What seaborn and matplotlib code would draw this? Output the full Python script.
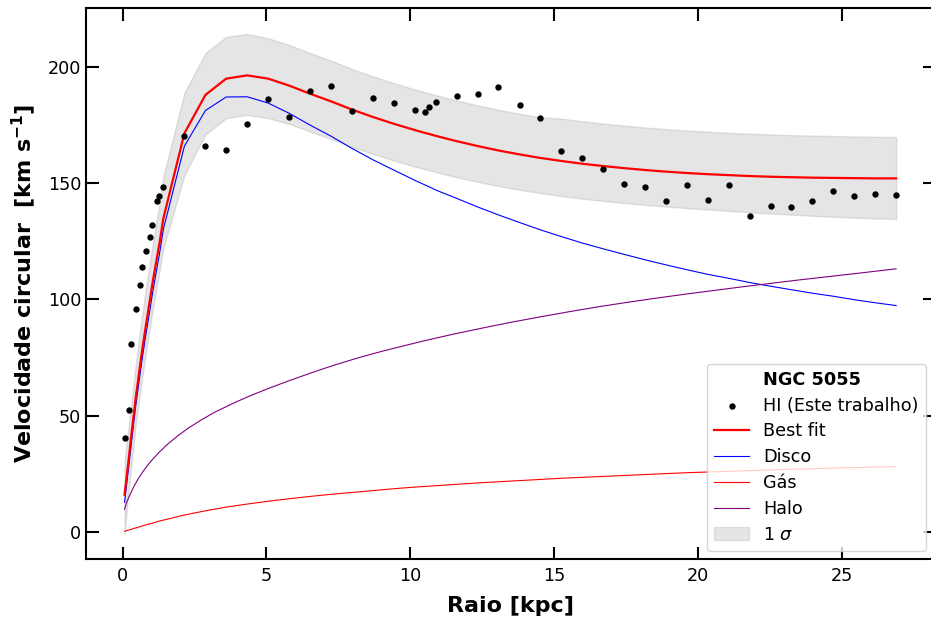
import matplotlib
matplotlib.use("Agg")
import matplotlib.pyplot as plt
from matplotlib.lines import Line2D
import seaborn as sns

# Observed HI rotation curve of NGC 5055
r_obs = [0.07, 0.21, 0.31, 0.45, 0.59, 0.69, 0.80, 0.94, 1.04, 1.18, 1.28, 1.42,
         2.15, 2.88, 3.60, 4.33, 5.06, 5.79, 6.52, 7.25, 7.97, 8.70, 9.42, 10.15,
         10.52, 10.65, 10.88, 11.61, 12.34, 13.06, 13.80, 14.51, 15.24, 15.97,
         16.70, 17.43, 18.15, 18.88, 19.61, 20.34, 21.07, 21.79, 22.52, 23.24,
         23.97, 24.70, 25.43, 26.15, 26.88]
v_obs = [40.4, 52.5, 80.9, 95.9, 106.2, 114.0, 120.9, 126.9, 132.0, 142.4, 144.5, 148.4,
         170.2, 166.2, 164.2, 175.6, 186.2, 178.5, 189.5, 191.8, 181.1, 186.7, 184.4, 181.5,
         180.8, 182.8, 184.9, 187.5, 188.5, 191.2, 183.8, 178.1, 164.0, 160.7,
         156.0, 149.7, 148.4, 142.2, 149.1, 142.9, 149.2, 136.1, 140.1, 139.8,
         142.2, 146.7, 144.4, 145.3, 144.8]

# Mass model evaluated at the observed radii
v_best = [16.0, 31.0, 42.0, 57.0, 70.0, 79.0, 88.0, 99.0, 107.0, 117.0, 124.0, 135.0,
          171.5, 188.0, 195.0, 196.4, 195.0, 192.0, 188.5, 185.2, 181.7, 178.5, 175.6, 172.9,
          171.6, 171.2, 170.4, 168.1, 166.0, 164.1, 162.4, 160.9, 159.6, 158.4,
          157.4, 156.5, 155.7, 155.0, 154.4, 153.9, 153.5, 153.1, 152.8, 152.6,
          152.4, 152.3, 152.2, 152.1, 152.1]
v_disk = [12.8, 27.6, 38.6, 53.4, 66.2, 75.1, 84.0, 94.7, 102.6, 112.5, 119.4, 130.3,
          166.0, 181.3, 187.1, 187.2, 184.5, 180.1, 175.0, 170.2, 165.0, 160.1, 155.7, 151.3,
          149.2, 148.5, 147.1, 143.5, 139.8, 136.4, 133.1, 130.0, 127.1, 124.3,
          121.8, 119.4, 117.1, 114.9, 112.8, 110.8, 109.1, 107.3, 105.7, 104.2,
          102.7, 101.4, 99.9, 98.6, 97.4]
v_gas = [0.3, 0.8, 1.2, 1.7, 2.2, 2.6, 3.0, 3.5, 3.8, 4.3, 4.7, 5.1,
         7.3, 9.1, 10.7, 12.0, 13.2, 14.3, 15.3, 16.2, 17.0, 17.8, 18.6, 19.3,
         19.6, 19.7, 19.9, 20.5, 21.1, 21.6, 22.1, 22.6, 23.1, 23.5,
         23.9, 24.3, 24.7, 25.1, 25.5, 25.8, 26.1, 26.4, 26.7, 27.0,
         27.2, 27.5, 27.7, 27.9, 28.1]

# Dark-matter halo on its own, finer radial grid
r_halo = [0.07, 0.15, 0.25, 0.39, 0.55, 0.75, 0.97, 1.25, 1.55, 1.90, 2.30, 2.71,
          3.20, 3.87, 4.40, 5.02, 5.60, 6.18, 6.76, 7.34, 7.92, 8.50, 9.07, 9.65,
          10.5, 11.5, 12.5, 13.5, 14.5, 15.5, 16.5, 17.5, 18.5, 19.5, 20.5, 21.5,
          22.5, 23.5, 24.5, 25.5, 26.88]
v_halo = [9.8, 13.0, 15.8, 19.5, 23.0, 26.7, 30.2, 34.0, 37.6, 41.2, 44.8, 48.0,
          51.5, 55.5, 58.4, 61.5, 64.2, 66.8, 69.3, 71.7, 73.9, 76.0, 77.9, 79.7,
          82.3, 85.1, 87.7, 90.2, 92.5, 94.7, 96.8, 98.7, 100.5, 102.2, 103.8, 105.4,
          106.9, 108.4, 109.8, 111.2, 113.2]

# 1-sigma envelope of the best fit
v_upper = [31.0, 45.0, 56.0, 71.0, 85.0, 94.0, 104.0, 115.0, 123.0, 134.0, 141.0, 153.0,
           189.0, 206.0, 213.0, 214.2, 212.4, 209.5, 206.0, 202.7, 199.2, 196.0, 193.1, 190.4,
           189.1, 188.7, 187.9, 185.6, 183.5, 181.6, 179.9, 178.4, 177.8, 176.7,
           175.7, 174.8, 174.0, 173.3, 172.7, 172.2, 171.7, 171.3, 171.0, 170.7,
           170.5, 170.3, 170.1, 170.0, 169.9]
v_lower = [-1.0, 18.0, 29.0, 45.0, 58.0, 67.0, 76.0, 87.0, 95.0, 105.0, 112.0, 122.0,
           153.5, 171.0, 178.0, 179.4, 178.0, 175.5, 172.2, 169.0, 165.7, 162.6, 159.8, 157.2,
           156.0, 155.6, 154.8, 152.6, 150.6, 148.8, 147.2, 145.8, 144.5, 143.4,
           142.4, 141.5, 140.7, 140.0, 139.3, 138.7, 138.1, 137.5, 137.0, 136.5,
           136.0, 135.6, 135.2, 134.9, 134.6]

FS = 12.7
plt.rcParams["font.family"] = ["DejaVu Sans"]
plt.rcParams["font.size"] = FS

fig = plt.figure(figsize=(9.31, 6.2), dpi=100)
ax = fig.add_axes([86 / 931, (620 - 559.4) / 620, (934.7 - 86) / 931, (559.4 - 8.2) / 620])

ax.fill_between(r_obs, v_lower, v_upper, color="gray", alpha=0.2, label="1 $\\sigma$", zorder=1)

sns.lineplot(x=r_obs, y=v_best, ax=ax, color="red", linewidth=1.6, label="Best fit",
             sort=False, estimator=None, zorder=3)
sns.lineplot(x=r_obs, y=v_disk, ax=ax, color="blue", linewidth=0.8, label="Disco",
             sort=False, estimator=None, zorder=2)
sns.lineplot(x=r_obs, y=v_gas, ax=ax, color="red", linewidth=0.8, label="Gás",
             sort=False, estimator=None, zorder=2)
sns.lineplot(x=r_halo, y=v_halo, ax=ax, color="purple", linewidth=0.8, label="Halo",
             sort=False, estimator=None, zorder=2)
sns.scatterplot(x=r_obs, y=v_obs, ax=ax, color="black", s=21, linewidth=0,
                label="HI (Este trabalho)", zorder=4)

ax.set_xlim(-1.27, 28.22)
ax.set_ylim(-11.8, 225.3)
ax.set_xticks([0, 5, 10, 15, 20, 25])
ax.set_yticks([0, 50, 100, 150, 200])

for sp in ax.spines.values():
    sp.set_linewidth(1.5)
ax.spines["right"].set_visible(False)
ax.tick_params(which="both", direction="in", length=9, width=1.5,
               top=True, right=True, labelsize=FS)
ax.tick_params(axis="x", pad=5.5)

ax.set_xlabel("Raio [kpc]", fontsize=16, fontweight="bold", labelpad=8)
ax.set_ylabel("Velocidade circular  $\\mathbf{[km\\ s^{-1}]}$", fontsize=16,
              fontweight="bold", labelpad=7)

handles, labels = ax.get_legend_handles_labels()
lookup = dict(zip(labels, handles))
order = ["HI (Este trabalho)", "Best fit", "Disco", "Gás", "Halo", "1 $\\sigma$"]
header = Line2D([], [], linestyle="none", marker="none")
leg = ax.legend([header] + [lookup[k] for k in order], ["NGC 5055"] + order,
                loc="lower right", fontsize=FS, labelspacing=0.44)
leg.get_texts()[0].set_fontweight("bold")

fig.savefig("out.png", dpi=100)
